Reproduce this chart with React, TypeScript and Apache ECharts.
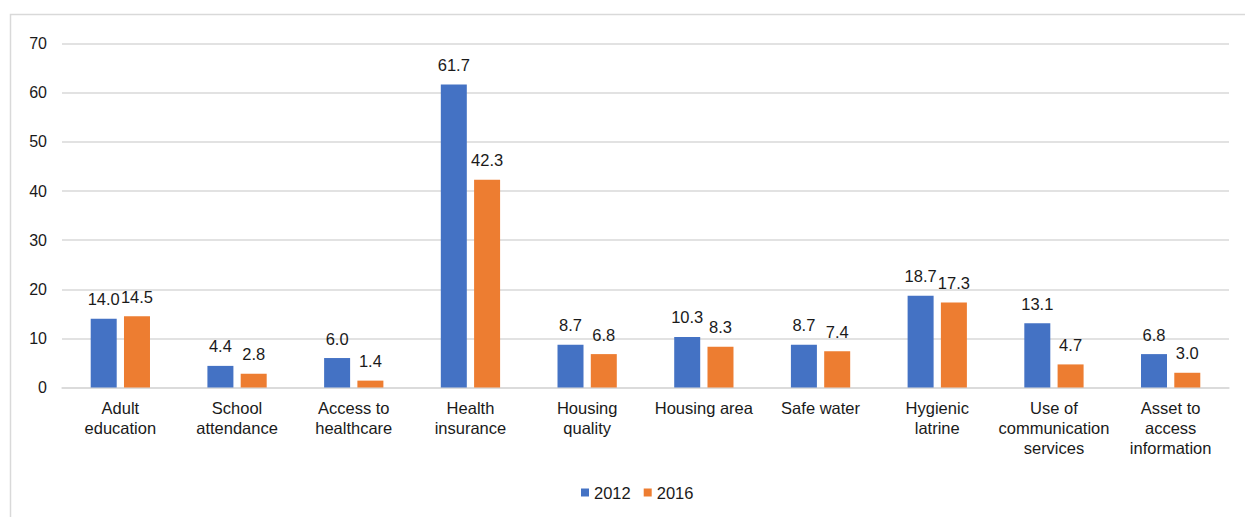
import React, { useEffect, useRef } from "react";
import * as echarts from "echarts";

const categories = [
  "Adult\neducation",
  "School\nattendance",
  "Access to\nhealthcare",
  "Health\ninsurance",
  "Housing\nquality",
  "Housing area",
  "Safe water",
  "Hygienic\nlatrine",
  "Use of\ncommunication\nservices",
  "Asset to\naccess\ninformation",
];
const values2012 = [14.0, 4.4, 6.0, 61.7, 8.7, 10.3, 8.7, 18.7, 13.1, 6.8];
const values2016 = [14.5, 2.8, 1.4, 42.3, 6.8, 8.3, 7.4, 17.3, 4.7, 3.0];
const seriesNames = ["2012", "2016"];

const FONT = "Liberation Sans, Arial, sans-serif";
const TXT = "#1a1a1a";

export default function App() {
  const ref = useRef<HTMLDivElement>(null);
  useEffect(() => {
    if (!ref.current) return;
    const chart = echarts.init(ref.current, null, { renderer: "svg" });
    const label = {
      show: true,
      position: "top",
      distance: 11,
      color: TXT,
      fontSize: 16.5,
      fontFamily: FONT,
      formatter: (p: any) => Number(p.value).toFixed(1),
    };
    chart.setOption({
      animation: false,
      backgroundColor: "#fff",
      textStyle: { fontFamily: FONT },
      graphic: [
        {
          type: "rect",
          shape: { x: 10.5, y: 14.5, width: 1300, height: 600 },
          style: { fill: "none", stroke: "#d9d9d9", lineWidth: 1.5 },
          silent: true,
        },
      ],
      grid: { left: 62, right: 16, top: 43.7, bottom: 129.5, containLabel: false },
      legend: {
        data: seriesNames,
        left: 576,
        top: 479,
        icon: "rect",
        itemWidth: 8,
        itemHeight: 8,
        itemGap: 13,
        textStyle: { color: TXT, fontSize: 16.5, fontFamily: FONT },
      },
      xAxis: {
        type: "category",
        data: categories,
        axisLine: { show: true, lineStyle: { color: "#d9d9d9", width: 1.5 } },
        axisTick: { show: false },
        axisLabel: {
          color: TXT,
          fontSize: 16.5,
          fontFamily: FONT,
          lineHeight: 20,
          margin: 10,
          interval: 0,
        },
      },
      yAxis: {
        type: "value",
        min: 0,
        max: 70,
        interval: 10,
        axisLine: { show: false },
        axisTick: { show: false },
        splitLine: { lineStyle: { color: "#d9d9d9", width: 1.5 } },
        axisLabel: { color: TXT, fontSize: 16, fontFamily: FONT, margin: 15 },
      },
      series: [
        {
          name: seriesNames[0],
          type: "bar",
          data: values2012,
          barWidth: 26,
          barGap: "28%",
          itemStyle: { color: "#4472C4" },
          label,
        },
        {
          name: seriesNames[1],
          type: "bar",
          data: values2016,
          barWidth: 26,
          itemStyle: { color: "#ED7D31" },
          label,
        },
      ],
    });
    return () => chart.dispose();
  }, []);
  return (
    <div
      ref={ref}
      style={{ position: "absolute", left: 0, top: 0, width: 1245, height: 517 }}
    />
  );
}
